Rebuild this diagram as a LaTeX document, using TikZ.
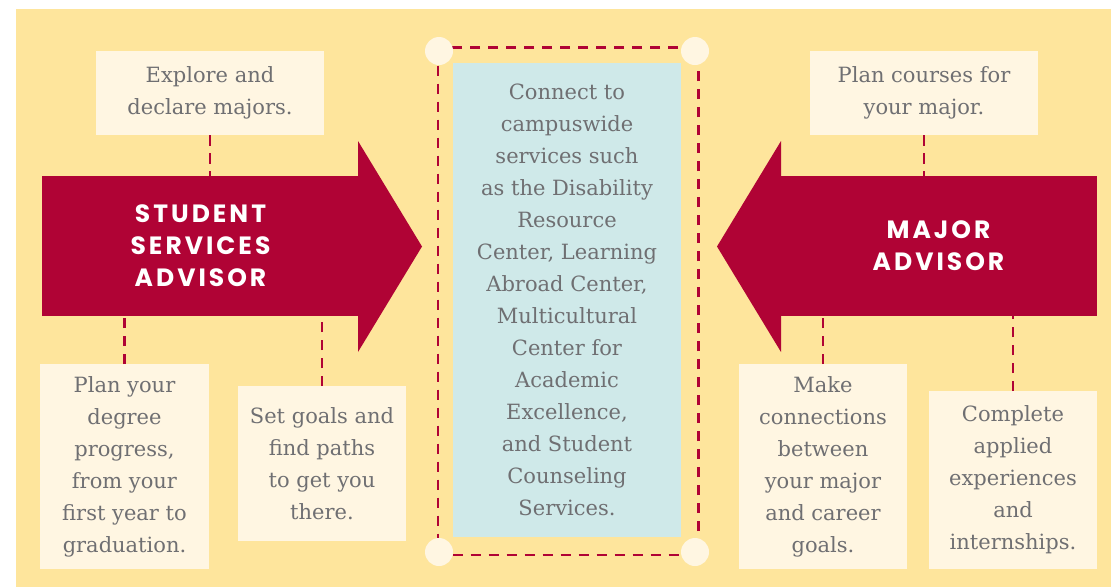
\documentclass[tikz,border=0pt]{standalone}
\usepackage{fontspec}
\setmainfont{DejaVu Serif}
\newfontfamily\titlefont[LetterSpace=12]{Poppins}
\usepackage{tikz}
\definecolor{bgyellow}{HTML}{FEE59C}
\definecolor{cream}{HTML}{FFF6E2}
\definecolor{crimson}{HTML}{B00335}
\definecolor{paleblue}{HTML}{CFE9E9}
\definecolor{textgray}{HTML}{6F6F72}

\begin{document}
\begin{tikzpicture}[x=1pt, y=-1pt,
  every node/.style={outer sep=0pt, inner sep=0pt, align=center},
  tipbox/.style={fill=cream, text=textgray, font=\fontsize{21}{32}\selectfont},
  advisor/.style={fill=crimson, text=white, font=\titlefont\bfseries\fontsize{25}{32}\selectfont},
  dashlink/.style={crimson, line width=2.8pt, dash pattern=on 10.5pt off 7.5pt}]
\useasboundingbox (0,0) rectangle (1111,587);
\fill[white] (0,0) rectangle (1111,587);
\fill[bgyellow] (16,9) rectangle (1111,587);

\node[tipbox, minimum width=228pt, minimum height=84pt] (explore) at (210,93) {Explore and\\declare majors.};
\node[tipbox, minimum width=228pt, minimum height=84pt] (courses) at (924,93) {Plan courses for\\your major.};

\node[advisor, minimum width=317pt, minimum height=140pt] (student) at (200.5,246) {STUDENT\\SERVICES\\ADVISOR};
\fill[crimson] (358,141) -- (422,246.5) -- (358,352) -- cycle;
\node[advisor, minimum width=317pt, minimum height=140pt] (major) at (938.5,246) {MAJOR\\ADVISOR};
\fill[crimson] (781,141) -- (717,246.5) -- (781,352) -- cycle;

\node[tipbox, minimum width=169pt, minimum height=205pt] (degree) at (124.5,466.5) {Plan your\\degree\\progress,\\from your\\first year to\\graduation.};
\node[tipbox, minimum width=168pt, minimum height=155pt] (goals) at (322,463.5) {Set goals and\\find paths\\to get you\\there.};
\node[tipbox, minimum width=168pt, minimum height=205pt] (connect) at (823,466.5) {Make\\connections\\between\\your major\\and career\\goals.};
\node[tipbox, minimum width=168pt, minimum height=178pt] (applied) at (1013,480) {Complete\\applied\\experiences\\and\\internships.};

\node[tipbox, fill=paleblue, minimum width=228pt, minimum height=474pt] (campus) at (567,300) {Connect to\\campuswide\\services such\\as the Disability\\Resource\\Center, Learning\\Abroad Center,\\Multicultural\\Center for\\Academic\\Excellence,\\and Student\\Counseling\\Services.};

\draw[dashlink] (438,47.5) rectangle (698.5,555);
\fill[cream] (439,51) circle (14pt);
\fill[cream] (695,51) circle (14pt);
\fill[cream] (439,552) circle (14pt);
\fill[cream] (695,552) circle (14pt);

\draw[dashlink] (explore.south) -- (explore.south |- student.north);
\draw[dashlink] (courses.south) -- (courses.south |- major.north);
\draw[dashlink] (degree.north) -- (degree.north |- student.south);
\draw[dashlink] (goals.north) -- (goals.north |- student.south);
\draw[dashlink] (connect.north) -- (connect.north |- major.south);
\draw[dashlink] (applied.north) -- (applied.north |- major.south);
\end{tikzpicture}
\end{document}
